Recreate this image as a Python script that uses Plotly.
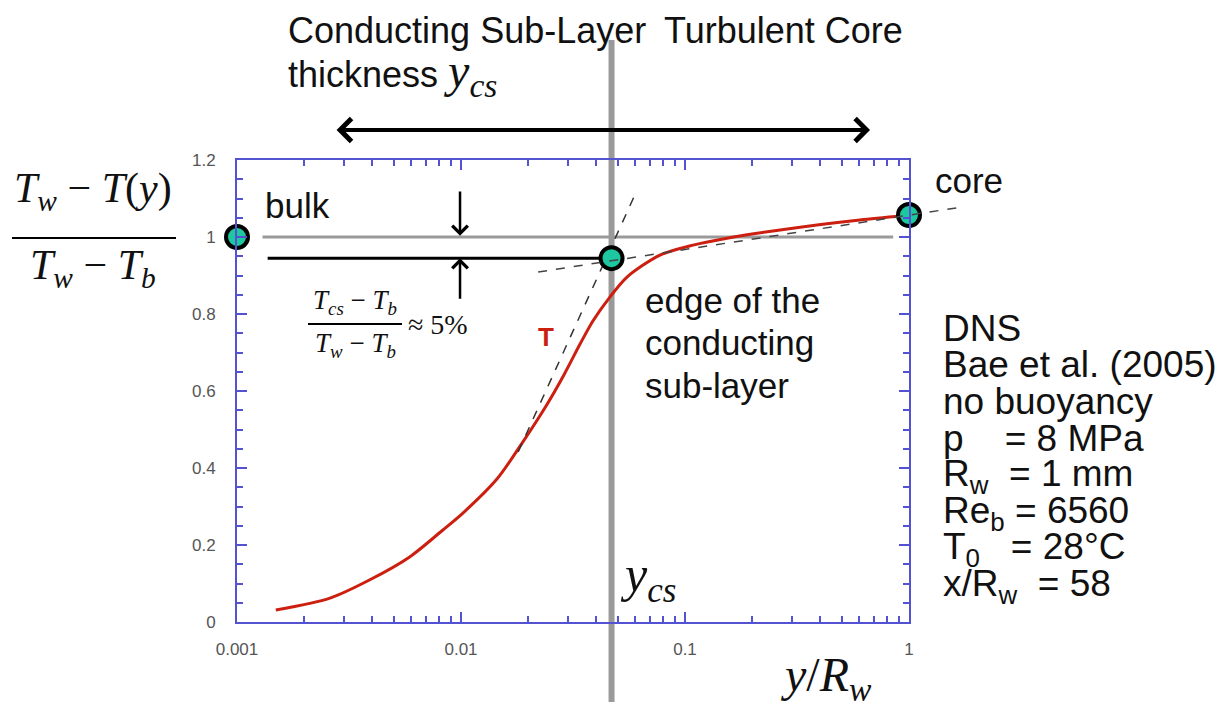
import numpy as np
import plotly.graph_objects as go

# ---- data ----
y_over_R = [0.00149, 0.0026, 0.0039, 0.0059, 0.0083, 0.0102, 0.0145, 0.0189, 0.0242,
            0.0290, 0.0340, 0.0388, 0.0462, 0.0551, 0.0773, 0.1086, 0.154, 0.303, 0.604, 0.94]
theta = [0.031, 0.062, 0.109, 0.169, 0.239, 0.283, 0.372, 0.468, 0.565,
         0.645, 0.722, 0.782, 0.844, 0.896, 0.953, 0.979, 0.997, 1.023, 1.044, 1.055]

y_cs = 0.047
pts_x = [0.001, y_cs, 1.0]          # bulk, edge, core
pts_y = [1.0, 0.945, 1.057]

bulk_line_x = [0.0013, 0.85]
bulk_line_y = [1.0, 1.0]
cs_line_x = [0.00137, y_cs]
cs_line_y = [0.945, 0.945]

steep_x = [0.0180, 0.0611]          # tangent at inflection
steep_y = [0.442, 1.122]
flat_x = [0.0221, 1.73]             # tangent in the core
flat_y = [0.909, 1.078]

span_x = [0.00274, 0.670]           # double arrow above the plot
span_y = 1.278
gap_x = 0.0099
gap_down = [1.122, 1.003]
gap_up = [0.836, 0.945]

xtick_vals = [0.001, 0.01, 0.1, 1]
xtick_text = ["0.001", "0.01", "0.1", "1"]

info_lines = ["DNS", "Bae et al. (2005)", "no buoyancy", "p    = 8 MPa",
              "R<sub>w</sub>  = 1 mm", "Re<sub>b</sub> = 6560",
              "T<sub>0</sub>   = 28°C", "x/R<sub>w</sub>  = 58"]

# ---- layout geometry (screen pixels; page body has an 8px margin) ----
W, H, OFF = 1224, 706, 8
L, R, T, B = 237, 909, 160, 622
SANS = "Liberation Sans"
SERIF = "Liberation Serif"
FRAME = "#5252d2"


def pp(px, py):
    # screen pixel -> paper
    return (px - L) / (R - L), (B - py) / (B - T)


def xpaper(v):
    return (np.log10(v) + 3) / 3


fig = go.Figure()

fig.add_trace(go.Scatter(x=bulk_line_x, y=bulk_line_y, mode="lines",
                         line=dict(color="#9a9a9a", width=3), showlegend=False))
fig.add_trace(go.Scatter(x=cs_line_x, y=cs_line_y, mode="lines",
                         line=dict(color="black", width=3), showlegend=False))
fig.add_trace(go.Scatter(x=y_over_R, y=theta, mode="lines",
                         line=dict(color="#cc1f10", width=3, shape="spline", smoothing=0.8),
                         showlegend=False))
fig.add_trace(go.Scatter(x=steep_x, y=steep_y, mode="lines",
                         line=dict(color="#333333", width=1.5, dash="dash"), showlegend=False))

# vertical line at y_cs, runs past the frame
fig.add_shape(type="line", xref="x", yref="paper", x0=y_cs, x1=y_cs,
              y0=pp(0, 702)[1], y1=pp(0, 40)[1], layer="below",
              line=dict(color="#9a9a9a", width=6))
# core tangent, extends past x = 1
fig.add_shape(type="line", xref="paper", yref="y",
              x0=xpaper(flat_x[0]), x1=xpaper(flat_x[1]), y0=flat_y[0], y1=flat_y[1],
              line=dict(color="#444444", width=1.5, dash="dash"))

fig.add_trace(go.Scatter(x=pts_x, y=pts_y, mode="markers", cliponaxis=False,
                         marker=dict(size=22, color="#1dc79f", line=dict(color="black", width=4)),
                         showlegend=False))

ann = []


def txt(text, px, py, size=35, family=SANS, xanchor="left", color="#111111"):
    x, y = pp(px, py)
    ann.append(dict(text=text, x=x, y=y, xref="paper", yref="paper", showarrow=False,
                    xanchor=xanchor, yanchor="middle", font=dict(family=family, size=size, color=color)))


def arrow(x0, y0, x1, y1, side="end", width=2.5, size=1.2):
    # paper refs so that arrows outside the axis range stay visible
    tx, ty = xpaper(x1), y1 / 1.2
    dx = (xpaper(x0) - tx) * (R - L)
    dy = -(y0 - y1) / 1.2 * (B - T)
    ann.append(dict(text="", x=tx, y=ty, xref="paper", yref="paper",
                    ax=dx, ay=dy, axref="pixel", ayref="pixel", showarrow=True,
                    arrowhead=4, startarrowhead=4, arrowside=side, arrowwidth=width,
                    arrowsize=size, startarrowsize=size, arrowcolor="black",
                    standoff=0, startstandoff=0))


arrow(span_x[0], span_y, span_x[1], span_y, side="end+start", width=4, size=1.1)
arrow(gap_x, gap_down[0], gap_x, gap_down[1])
arrow(gap_x, gap_up[0], gap_x, gap_up[1])

txt("Conducting Sub-Layer", 286, 30, size=36)
txt("Turbulent Core", 662, 31, size=36)
txt("thickness <span style='font-family:Liberation Serif;font-size:48px'><i>y<sub>cs</sub></i></span>",
    286, 74, size=36)
txt("bulk", 263, 205)
txt("core", 933, 180)
txt("<b>T</b>", 546, 337, size=26, xanchor="center", color="#cc1f10")
for i, s in enumerate(["edge of the", "conducting", "sub-layer"]):
    txt(s, 643, 300 + 42.5 * i)
for i, s in enumerate(info_lines):
    txt(s, 941, 328 + 36.9 * i, size=37)

# y-axis label as a fraction
txt("<i>T<sub>w</sub></i> − <i>T</i>(<i>y</i>)", 93, 191, size=42, family=SERIF, xanchor="center")
txt("<i>T<sub>w</sub></i> − <i>T<sub>b</sub></i>", 93, 268, size=42, family=SERIF, xanchor="center")
# small 5 % fraction
txt("<i>T<sub>cs</sub></i> − <i>T<sub>b</sub></i>", 355, 302, size=27, family=SERIF, xanchor="center")
txt("<i>T<sub>w</sub></i> − <i>T<sub>b</sub></i>", 355, 345, size=27, family=SERIF, xanchor="center")
txt("≈ 5%", 406, 324, size=28, family=SERIF)

txt("<i>y<sub>cs</sub></i>", 618, 578, size=50, family=SERIF)
txt("<i>y</i>/<i>R<sub>w</sub></i>", 826, 678, size=48, family=SERIF, xanchor="center")

for (x0, x1, y) in [(12, 176, 238), (308, 402, 324)]:
    a, yy = pp(x0, y)
    b, _ = pp(x1, y)
    fig.add_shape(type="line", xref="paper", yref="paper", x0=a, x1=b, y0=yy, y1=yy,
                  line=dict(color="black", width=2))

minor_x = [k * 10.0 ** e for e in (-3, -2, -1) for k in range(2, 10)]

fig.update_layout(
    width=W - OFF, height=H - OFF,
    margin=dict(l=L - OFF, r=W - R, t=T - OFF, b=H - B),
    paper_bgcolor="white", plot_bgcolor="white",
    annotations=ann,
    xaxis=dict(type="log", range=[-3, 0], tickvals=xtick_vals, ticktext=xtick_text,
               ticks="inside", ticklen=10, tickcolor=FRAME, tickwidth=1.5,
               showline=True, linecolor=FRAME, linewidth=2, mirror="ticks",
               showgrid=False, zeroline=False, ticklabelstandoff=11,
               tickfont=dict(family=SANS, size=17, color="#555555"),
               minor=dict(tickvals=minor_x, ticks="inside", ticklen=6, tickcolor=FRAME, showgrid=False)),
    yaxis=dict(range=[0, 1.2], dtick=0.2, ticks="inside", ticklen=10, tickcolor=FRAME, tickwidth=1.5,
               showline=True, linecolor=FRAME, linewidth=2, mirror="ticks",
               showgrid=False, zeroline=False, ticklabelstandoff=16,
               tickfont=dict(family=SANS, size=17, color="#555555"),
               minor=dict(dtick=0.05, ticks="inside", ticklen=6, tickcolor=FRAME, showgrid=False)),
)

fig.write_html("out.html")
